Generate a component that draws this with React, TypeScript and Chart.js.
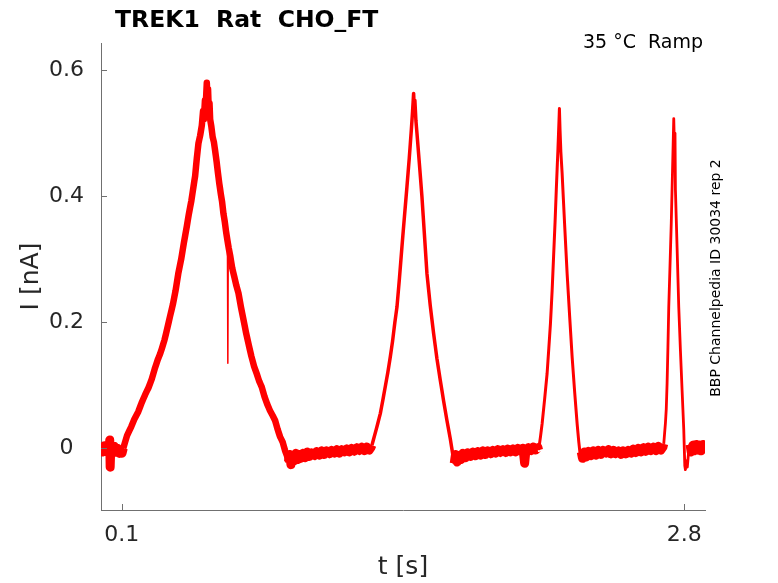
import { useEffect, useRef } from "react";
import { Chart, registerables } from "chart.js";

Chart.register(...registerables);

//  Data (t in s, I in nA)

const BASE_1: [number, number][] = [
  [0.0, 0.002], [0.008, -0.006], [0.016, 0.004], [0.024, -0.005], [0.032, 0.003],
  [0.04, -0.004], [0.042, 0.013], [0.044, -0.03], [0.047, 0.002], [0.055, -0.006],
  [0.063, 0.003], [0.071, -0.006], [0.079, 0.0], [0.087, -0.008], [0.095, -0.004],
  [0.101, -0.008],
];

const PEAK_1: [number, number][] = [
  [0.107, 0.0], [0.125, 0.02], [0.145, 0.034], [0.16, 0.046], [0.179, 0.058],
  [0.195, 0.072], [0.212, 0.085], [0.228, 0.096], [0.244, 0.11], [0.258, 0.126],
  [0.272, 0.14], [0.284, 0.15], [0.292, 0.158], [0.305, 0.172], [0.318, 0.19],
  [0.332, 0.21], [0.345, 0.228], [0.358, 0.25], [0.371, 0.277], [0.385, 0.3],
  [0.398, 0.326], [0.412, 0.352], [0.422, 0.372], [0.434, 0.393], [0.444, 0.415],
  [0.452, 0.432], [0.46, 0.46], [0.468, 0.484], [0.476, 0.496], [0.484, 0.512],
  [0.49, 0.535], [0.494, 0.522], [0.499, 0.552], [0.503, 0.545], [0.508, 0.58],
  [0.511, 0.556], [0.514, 0.57], [0.517, 0.54], [0.521, 0.548], [0.524, 0.522],
  [0.53, 0.51], [0.536, 0.494], [0.542, 0.486], [0.548, 0.472], [0.555, 0.455],
  [0.561, 0.438], [0.568, 0.42], [0.575, 0.404], [0.581, 0.392], [0.588, 0.372],
  [0.594, 0.36], [0.6, 0.345], [0.606, 0.332], [0.613, 0.318], [0.62, 0.306],
  [0.63, 0.286], [0.64, 0.272], [0.65, 0.258], [0.66, 0.246], [0.672, 0.224],
  [0.684, 0.204], [0.696, 0.184], [0.708, 0.166], [0.722, 0.146], [0.735, 0.13],
  [0.748, 0.118], [0.76, 0.106], [0.772, 0.097], [0.785, 0.082], [0.798, 0.07],
  [0.811, 0.06], [0.824, 0.052], [0.836, 0.044], [0.848, 0.03], [0.86, 0.018],
  [0.872, 0.01], [0.884, -0.004], [0.893, -0.012],
];

// brief artefact on the falling side of the first ramp
const SPIKE: [number, number][] = [[0.607, 0.332], [0.609, 0.135], [0.611, 0.326]];

const BASE_2: [number, number][] = [
  [0.9, -0.022], [0.906, -0.01], [0.912, -0.026], [0.92, -0.012], [0.928, -0.02],
  [0.936, -0.008], [0.944, -0.018], [0.952, -0.01], [0.96, -0.016], [0.97, -0.008],
  [0.98, -0.015], [0.99, -0.006], [1.0, -0.013], [1.012, -0.007], [1.024, -0.012],
  [1.036, -0.005], [1.048, -0.011], [1.06, -0.004], [1.072, -0.01], [1.084, -0.004],
  [1.096, -0.009], [1.108, -0.003], [1.12, -0.008], [1.132, -0.002], [1.144, -0.008],
  [1.156, -0.002], [1.168, -0.006], [1.18, -0.001], [1.192, -0.006], [1.204, 0.0],
  [1.216, -0.005], [1.228, 0.001], [1.24, -0.004], [1.252, 0.002], [1.264, -0.004],
  [1.276, 0.002], [1.288, -0.003], [1.296, 0.001],
];

const PEAK_2: [number, number][] = [
  [1.301, 0.005], [1.315, 0.022], [1.328, 0.038], [1.341, 0.055], [1.353, 0.076],
  [1.365, 0.098], [1.377, 0.12], [1.389, 0.145], [1.4, 0.17], [1.411, 0.2],
  [1.421, 0.224], [1.433, 0.27], [1.445, 0.32], [1.457, 0.368], [1.469, 0.415],
  [1.48, 0.46], [1.49, 0.505], [1.496, 0.535], [1.501, 0.563], [1.504, 0.54],
  [1.507, 0.552], [1.512, 0.52], [1.517, 0.5], [1.529, 0.45], [1.541, 0.399],
  [1.553, 0.338], [1.565, 0.277], [1.581, 0.226], [1.597, 0.182], [1.613, 0.142],
  [1.629, 0.108], [1.645, 0.075], [1.661, 0.044], [1.677, 0.015], [1.69, -0.012],
];

const BASE_3: [number, number][] = [
  [1.696, -0.024], [1.702, -0.01], [1.71, -0.022], [1.718, -0.012], [1.728, -0.018],
  [1.738, -0.008], [1.75, -0.015], [1.762, -0.007], [1.774, -0.013], [1.786, -0.006],
  [1.798, -0.012], [1.81, -0.005], [1.822, -0.011], [1.834, -0.004], [1.846, -0.01],
  [1.858, -0.004], [1.87, -0.009], [1.882, -0.003], [1.894, -0.008], [1.906, -0.002],
  [1.918, -0.007], [1.93, -0.002], [1.942, -0.007], [1.954, -0.001], [1.966, -0.006],
  [1.978, -0.001], [1.99, -0.006], [2.002, 0.0], [2.014, -0.005], [2.026, 0.0],
  [2.034, -0.024], [2.04, -0.004], [2.052, 0.001], [2.064, -0.004], [2.076, 0.002],
  [2.088, -0.003], [2.098, 0.001],
];

const PEAK_3: [number, number][] = [
  [2.101, -0.003], [2.11, 0.018], [2.118, 0.039], [2.13, 0.078], [2.142, 0.119],
  [2.15, 0.158], [2.158, 0.198], [2.166, 0.25], [2.173, 0.304], [2.18, 0.358],
  [2.186, 0.41], [2.194, 0.475], [2.199, 0.52], [2.201, 0.539], [2.204, 0.505],
  [2.208, 0.47], [2.214, 0.436], [2.226, 0.355], [2.238, 0.277], [2.25, 0.21],
  [2.262, 0.145], [2.274, 0.09], [2.286, 0.039], [2.294, 0.01], [2.302, -0.014],
];

const BASE_4: [number, number][] = [
  [2.306, -0.006], [2.312, -0.016], [2.32, -0.006], [2.33, -0.014], [2.34, -0.005],
  [2.352, -0.012], [2.364, -0.004], [2.376, -0.011], [2.388, -0.003], [2.4, -0.01],
  [2.412, -0.003], [2.424, -0.008], [2.436, -0.002], [2.448, -0.009], [2.46, -0.003],
  [2.472, -0.009], [2.484, -0.004], [2.496, -0.01], [2.508, -0.004], [2.52, -0.009],
  [2.532, -0.003], [2.544, -0.008], [2.556, -0.001], [2.568, -0.007], [2.58, 0.0],
  [2.592, -0.006], [2.604, 0.001], [2.616, -0.005], [2.628, 0.002], [2.64, -0.004],
  [2.652, 0.002], [2.664, -0.004], [2.676, 0.003], [2.688, -0.003], [2.698, 0.002],
];

const PEAK_4: [number, number][] = [
  [2.702, 0.007], [2.71, 0.04], [2.714, 0.062], [2.718, 0.103], [2.722, 0.16],
  [2.726, 0.224], [2.732, 0.29], [2.738, 0.357], [2.744, 0.44], [2.75, 0.523],
  [2.753, 0.48], [2.756, 0.5], [2.758, 0.41], [2.766, 0.318], [2.774, 0.224],
  [2.782, 0.155], [2.79, 0.092], [2.798, 0.03], [2.803, -0.028], [2.806, -0.034],
  [2.81, -0.02], [2.815, -0.03], [2.822, -0.003],
];

const BASE_5: [number, number][] = [
  [2.828, 0.006], [2.834, -0.006], [2.842, 0.005], [2.85, -0.004], [2.858, 0.006],
  [2.866, -0.003], [2.874, 0.005], [2.882, -0.004], [2.89, 0.006], [2.898, -0.002],
];

const X_TICKS = [0.1, 2.8];
const Y_TICKS = [0, 0.2, 0.4, 0.6];

const TITLE = "TREK1  Rat  CHO_FT";
const CONDITION = "35 °C  Ramp";
const SOURCE = "BBP Channelpedia ID 30034 rep 2";
const X_LABEL = "t [s]";
const Y_LABEL = "I [nA]";

//  Style

const FONT = "'DejaVu Sans', sans-serif";
const TRACE = "#ff0000";
const AXIS = "#707070";
const TEXT = "#262626";

// the trace in recording order; the noise band is wide at rest,
// wide on the slow first ramp and narrow on the fast ones
const REGIONS: { points: [number, number][]; width: number }[] = [
  { points: BASE_1, width: 9 },
  { points: PEAK_1, width: 6.5 },
  { points: BASE_2, width: 9 },
  { points: PEAK_2, width: 3.5 },
  { points: BASE_3, width: 9 },
  { points: PEAK_3, width: 3 },
  { points: BASE_4, width: 9 },
  { points: PEAK_4, width: 2.8 },
  { points: BASE_5, width: 9 },
];

// tiny tension keeps segments straight but avoids the per-pixel fast path,
// which collapses the sharp apexes into vertical strokes
const LINE_STYLE = {
  borderColor: TRACE,
  borderJoinStyle: "round" as const,
  borderCapStyle: "butt" as const,
  pointRadius: 0,
  tension: 0.001,
};

function buildDatasets() {
  const sets = REGIONS.map((r, i) => {
    // join each piece to the first sample of the next one
    const next = REGIONS[i + 1]?.points[0];
    const pts = next ? [...r.points, next] : r.points;
    return {
      ...LINE_STYLE,
      data: pts.map(([x, y]) => ({ x, y })),
      borderWidth: r.width,
    };
  });
  sets.push({
    ...LINE_STYLE,
    data: SPIKE.map(([x, y]) => ({ x, y })),
    borderWidth: 1.5,
  });
  return sets;
}

const decorations = {
  id: "decorations",
  afterDraw(chart: Chart) {
    const { ctx, chartArea: a, scales } = chart;
    ctx.save();

    // inward tick marks
    ctx.strokeStyle = AXIS;
    ctx.lineWidth = 1;
    ctx.beginPath();
    Y_TICKS.forEach((v) => {
      const y = Math.round(scales.y.getPixelForValue(v)) + 0.5;
      ctx.moveTo(a.left, y);
      ctx.lineTo(a.left + 6, y);
    });
    X_TICKS.forEach((v) => {
      const x = Math.round(scales.x.getPixelForValue(v)) + 0.5;
      ctx.moveTo(x, a.bottom);
      ctx.lineTo(x, a.bottom - 6);
    });
    ctx.stroke();

    ctx.fillStyle = "#000";
    ctx.font = `bold 23.5px ${FONT}`;
    ctx.textAlign = "left";
    ctx.textBaseline = "alphabetic";
    ctx.fillText(TITLE, 115, 27);

    ctx.font = `19px ${FONT}`;
    ctx.textAlign = "right";
    ctx.fillText(CONDITION, 703, 48);

    ctx.fillStyle = TEXT;
    ctx.font = `25px ${FONT}`;
    ctx.textAlign = "center";
    ctx.textBaseline = "middle";
    ctx.fillText(X_LABEL, (a.left + a.right) / 2, 567);

    ctx.save();
    ctx.translate(31, (a.top + a.bottom) / 2);
    ctx.rotate(-Math.PI / 2);
    ctx.fillText(Y_LABEL, 0, 0);
    ctx.restore();

    ctx.fillStyle = "#000";
    ctx.font = `14px ${FONT}`;
    ctx.save();
    ctx.translate(716, 278);
    ctx.rotate(-Math.PI / 2);
    ctx.fillText(SOURCE, 0, 0);
    ctx.restore();

    ctx.restore();
  },
};

export default function App() {
  const canvasRef = useRef<HTMLCanvasElement>(null);

  useEffect(() => {
    if (!canvasRef.current) return;

    const chart = new Chart(canvasRef.current, {
      type: "line",
      data: { datasets: buildDatasets() },
      options: {
        responsive: false,
        animation: false,
        layout: { padding: { top: 43, right: 73, left: 0, bottom: 0 } },
        plugins: {
          legend: { display: false },
          tooltip: { enabled: false },
        },
        scales: {
          x: {
            type: "linear",
            min: 0,
            max: 2.9,
            grid: { display: false, drawTicks: false },
            border: { display: true, color: AXIS, width: 1 },
            afterBuildTicks: (s) => {
              s.ticks = X_TICKS.map((value) => ({ value }));
            },
            afterFit: (s) => {
              s.height = 73;
            },
            ticks: {
              font: { family: FONT, size: 22 },
              color: TEXT,
              padding: 12,
              maxRotation: 0,
              autoSkip: false,
              callback: (v) => String(v),
            },
          },
          y: {
            type: "linear",
            min: -0.098,
            max: 0.643,
            grid: { display: false, drawTicks: false },
            border: { display: true, color: AXIS, width: 1 },
            afterBuildTicks: (s) => {
              s.ticks = Y_TICKS.map((value) => ({ value }));
            },
            afterFit: (s) => {
              s.width = 101;
            },
            ticks: {
              font: { family: FONT, size: 22 },
              color: TEXT,
              padding: 17,
              crossAlign: "center",
              autoSkip: false,
              callback: (v) => String(v),
            },
          },
        },
      },
      plugins: [decorations],
    });

    return () => chart.destroy();
  }, []);

  return (
    <div
      style={{
        position: "absolute",
        left: 0,
        top: 0,
        width: 778,
        height: 583,
        background: "#fff",
      }}
    >
      <canvas ref={canvasRef} width={778} height={583} />
    </div>
  );
}
